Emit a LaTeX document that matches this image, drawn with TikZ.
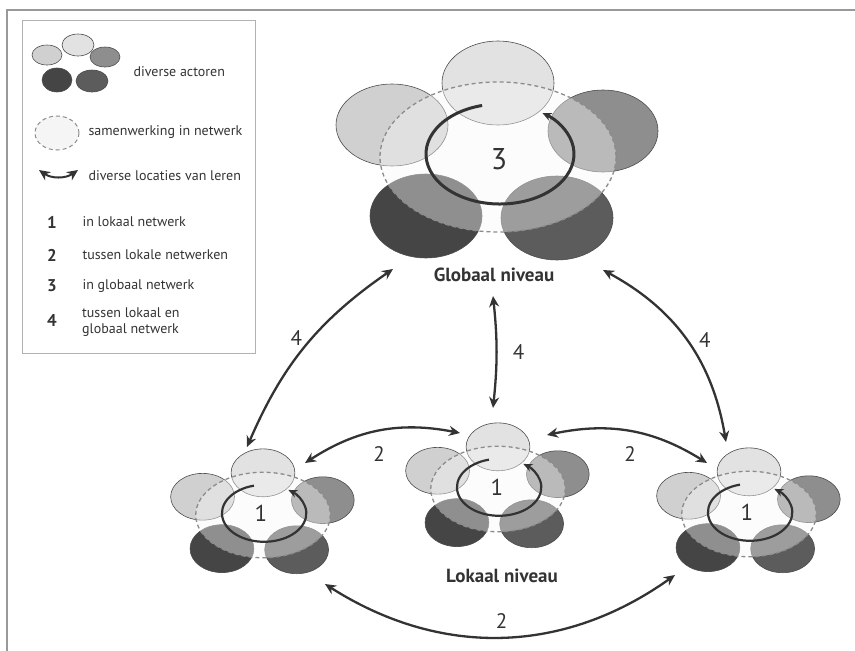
\documentclass[tikz,border=0pt]{standalone}
\usepackage{fontspec}
\setmainfont{PT Sans}
\usetikzlibrary{arrows.meta,positioning}

\definecolor{actorA}{HTML}{E2E2E2}
\definecolor{actorB}{HTML}{D0D0D0}
\definecolor{actorC}{HTML}{8E8E8E}
\definecolor{actorD}{HTML}{454545}
\definecolor{actorE}{HTML}{5C5C5C}
\definecolor{ink}{HTML}{333333}

\begin{document}
\begin{tikzpicture}[x=1pt,y=-1pt,font=\fontsize{14}{16}\selectfont,text=ink]
        % Setup the styles
        \tikzset{actor/.style={draw=black!70, line width=0.6pt},
                 network/.style={draw=black!45, line width=1.3pt,
                                 dash pattern=on 4pt off 3pt,
                                 fill=black!3, fill opacity=0.42},
                 learn/.style={draw=ink, line width=3pt,
                               -{Stealth[length=9pt,width=8pt]}},
                 link/.style={draw=ink, line width=2.3pt,
                              {Stealth[length=11pt,width=10pt]}-{Stealth[length=11pt,width=10pt]}},
                 num/.style={font=\fontsize{21}{23}\selectfont},
                 level/.style={font=\bfseries\fontsize{19}{21}\selectfont},
                 legend/.style={anchor=west},
                 actors/.pic={
                   \filldraw[actor, fill=actorA] (0,-74)   ellipse [x radius=56, y radius=42];
                   \filldraw[actor, fill=actorB] (-106,-32) ellipse [x radius=56, y radius=41];
                   \filldraw[actor, fill=actorC] (105,-26) ellipse [x radius=55, y radius=41];
                   \filldraw[actor, fill=actorD] (-72,59)  ellipse [x radius=56, y radius=42];
                   \filldraw[actor, fill=actorE] (59,61)   ellipse [x radius=56, y radius=42];
                   \path[network] (0,0) ellipse [x radius=118, y radius=75];
                   \draw[learn] (2,-3) ++(256:74 and 50)
                        arc [start angle=256, end angle=-55, x radius=74, y radius=50];
                 }}

        \useasboundingbox (0,0) rectangle (855,651);

        % Frame and legend box
        \draw[black!40, line width=1.2pt] (855,10) -- (7,10) -- (7,651);
        \draw[black!30, line width=0.8pt] (22,20) rectangle (255,353);

        % Legend
        \filldraw[actor, fill=actorA] (78,45) ellipse [x radius=16, y radius=11];
        \filldraw[actor, fill=actorB] (47,55) ellipse [x radius=15, y radius=10];
        \filldraw[actor, fill=actorC] (105,57) ellipse [x radius=15, y radius=10];
        \filldraw[actor, fill=actorD] (57,80) ellipse [x radius=15, y radius=12];
        \filldraw[actor, fill=actorE] (92,81) ellipse [x radius=16, y radius=11];
        \node[legend] (lg-actors) at (130,72) {diverse actoren};
        \path[network, fill opacity=1, fill=black!4, line width=1pt] (57,133) ellipse [x radius=22, y radius=17];
        \node[legend] (lg-network) at (85,132) {samenwerking in netwerk};
        \coordinate (lg-a) at (39,170);
        \coordinate (lg-b) at (78,170);
        \draw[link, line width=2pt] (lg-a) to[bend right=35] (lg-b);
        \node[legend] (lg-learn) at (85,176) {diverse locaties van leren};
        \foreach \n/\y/\txt in {1/222/in lokaal netwerk,
                                2/255/tussen lokale netwerken,
                                3/286/in globaal netwerk}{
            \node[font=\bfseries\fontsize{17}{19}\selectfont] (lg-n\n) at (52,\y) {\n};
            \node[legend] (lg-t\n) at (79,\y) {\txt};
        }
        \node[font=\bfseries\fontsize{17}{19}\selectfont] (lg-n4) at (52,321) {4};
        \node[legend, align=left, inner sep=0pt, font=\fontsize{14}{15.5}\selectfont]
            (lg-t4) at (82,322) {tussen lokaal en\\globaal netwerk};

        % Global network
        \pic at (498,157) {actors};
        \node[font=\fontsize{30}{32}\selectfont] (three) at (499,159) {3};
        \node[level] (global) at (494,275) {Globaal niveau};

        % Local networks
        \pic[scale=0.57, learn/.append style={line width=2.2pt}] at (263,515) {actors};
        \pic[scale=0.57, learn/.append style={line width=2.2pt}] at (498,489) {actors};
        \pic[scale=0.57, learn/.append style={line width=2.2pt}] at (749,514) {actors};
        \node[font=\fontsize{23}{25}\selectfont] (one-l) at (261,513) {1};
        \node[font=\fontsize{23}{25}\selectfont] (one-m) at (497,487) {1};
        \node[font=\fontsize{23}{25}\selectfont] (one-r) at (747,512) {1};
        \node[level] (local) at (502,576) {Lokaal niveau};

        % Arrow ends
        \coordinate (g-sw) at (393,269);
        \coordinate (g-s)  at (493,296);
        \coordinate (g-se) at (603,270);
        \coordinate (l-n)  at (247,447);
        \coordinate (l-ne) at (305,463);
        \coordinate (l-se) at (325,584);
        \coordinate (m-n)  at (493,408);
        \coordinate (m-nw) at (460,433);
        \coordinate (m-ne) at (547,435);
        \coordinate (r-n)  at (726,442);
        \coordinate (r-nw) at (707,463);
        \coordinate (r-sw) at (675,575);

        % Connect the levels with arrows
        \draw[link] (l-n)  to[bend left=16]  node[num, pos=0.55, left=6pt] (four-l) {4} (g-sw);
        \draw[link] (m-n)  to[bend right=6]  node[num, right=12pt] (four-m) {4} (g-s);
        \draw[link] (g-se) to[bend left=26]  node[num, right=8pt]  (four-r) {4} (r-n);
        \draw[link] (l-ne) to[bend left=22]  node[num, below=11pt] (two-l) {2} (m-nw);
        \draw[link] (m-ne) to[bend left=22]  node[num, below=11pt] (two-r) {2} (r-nw);
        \draw[link] (l-se) to[bend right=34] node[num, above=4pt] (two-b) {2} (r-sw);
\end{tikzpicture}
\end{document}
